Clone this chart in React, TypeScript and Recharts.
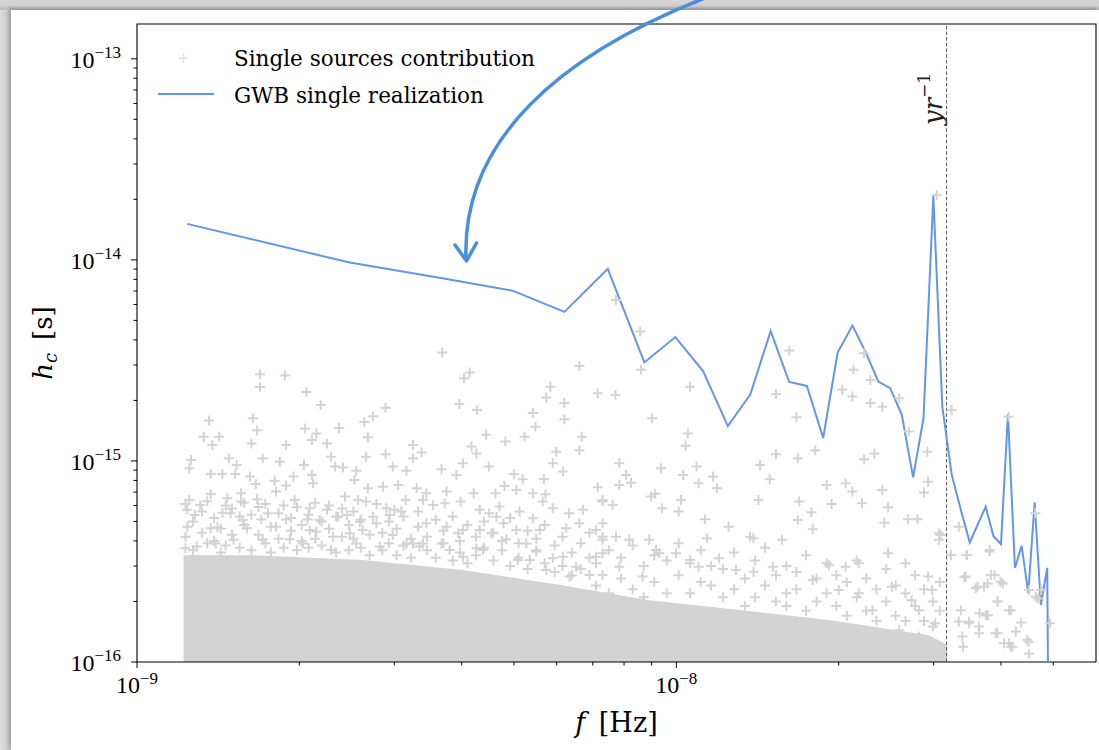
import React from 'react';
import {
  ComposedChart,
  Line,
  Area,
  Scatter,
  XAxis,
  YAxis,
  ReferenceLine,
  ReferenceArea,
  Legend,
} from 'recharts';

// ---------- axis set-up ----------
const xDomain = [1e-9, 6e-8];
const yDomain = [1e-16, 1.49e-13];
const xTicks = [1e-9, 2e-9, 3e-9, 4e-9, 5e-9, 6e-9, 7e-9, 8e-9, 9e-9, 1e-8, 2e-8, 3e-8, 4e-8, 5e-8];
const yTicks = [
  1e-16, 2e-16, 3e-16, 4e-16, 5e-16, 6e-16, 7e-16, 8e-16, 9e-16,
  1e-15, 2e-15, 3e-15, 4e-15, 5e-15, 6e-15, 7e-15, 8e-15, 9e-15,
  1e-14, 2e-14, 3e-14, 4e-14, 5e-14, 6e-14, 7e-14, 8e-14, 9e-14,
  1e-13,
];
const yearFreq = 3.17e-8; // 1/yr in Hz

// ---------- GWB single realization ----------
const gwbFreq = [
  1.239e-9, 2.48e-9, 3.751e-9, 4.969e-9, 6.203e-9, 7.462e-9, 8.724e-9, 9.957e-9, 1.121e-8, 1.246e-8,
  1.371e-8, 1.496e-8, 1.619e-8, 1.746e-8, 1.872e-8, 1.991e-8, 2.121e-8, 2.245e-8, 2.369e-8, 2.491e-8,
  2.618e-8, 2.748e-8, 2.873e-8, 2.996e-8, 3.113e-8, 3.241e-8, 3.368e-8, 3.5e-8, 3.626e-8, 3.746e-8,
  3.873e-8, 3.999e-8, 4.12e-8, 4.245e-8, 4.368e-8, 4.493e-8, 4.617e-8, 4.742e-8, 4.872e-8, 4.98e-8,
];
const gwbHc = [
  1.51e-14, 9.7e-15, 8.04e-15, 7.03e-15, 5.51e-15, 9.02e-15, 3.09e-15, 4.13e-15, 2.8e-15, 1.49e-15,
  2.14e-15, 4.42e-15, 2.47e-15, 2.36e-15, 1.3e-15, 3.46e-15, 4.71e-15, 3.47e-15, 2.48e-15, 2.3e-15,
  1.7e-15, 8.28e-16, 1.63e-15, 2.08e-14, 1.86e-15, 8.52e-16, 5.74e-16, 3.93e-16, 4.86e-16, 5.92e-16,
  4.22e-16, 3.86e-16, 1.71e-15, 2.94e-16, 3.78e-16, 2.2e-16, 6.22e-16, 1.92e-16, 2.94e-16, 1e-19,
];

// ---------- dense cloud of single sources (upper envelope of the solid region) ----------
const denseFreq = [1.22e-9, 1.62e-9, 2.62e-9, 4.02e-9, 6.07e-9, 8.91e-9, 1.2e-8, 1.92e-8, 2.94e-8, 3.18e-8];
const denseTop = [3.41e-16, 3.4e-16, 3.22e-16, 2.87e-16, 2.42e-16, 2.03e-16, 1.86e-16, 1.62e-16, 1.36e-16, 1.22e-16];

// ---------- individually visible single sources [f, hc] ----------
const singleSources: [number, number][] = [
  [3.68e-9, 3.46e-15], [1.69e-9, 2.7e-15], [1.88e-9, 2.66e-15], [1.69e-9, 2.33e-15], [4.04e-9, 2.58e-15],
  [4.14e-9, 2.75e-15], [6.61e-9, 2.97e-15], [2.06e-9, 2.2e-15], [2.19e-9, 1.9e-15], [2.89e-9, 1.84e-15],
  [3.96e-9, 1.92e-15], [4.27e-9, 1.79e-15], [5.84e-9, 2.34e-15], [5.74e-9, 2.07e-15], [6.2e-9, 1.94e-15],
  [7.15e-9, 2.17e-15], [1.36e-9, 1.59e-15], [1.64e-9, 1.63e-15], [1.67e-9, 1.42e-15], [2.05e-9, 1.45e-15],
  [2.37e-9, 1.46e-15], [2.64e-9, 1.56e-15], [2.74e-9, 1.67e-15], [5.42e-9, 1.73e-15], [5.48e-9, 1.48e-15],
  [6.2e-9, 1.61e-15], [4.44e-9, 1.35e-15], [5.23e-9, 1.32e-15], [6.68e-9, 1.32e-15], [1.33e-9, 1.32e-15],
  [1.38e-9, 1.2e-15], [1.42e-9, 1.32e-15], [1.63e-9, 1.22e-15], [1.89e-9, 1.2e-15], [2.15e-9, 1.37e-15],
  [2.11e-9, 1.27e-15], [2.25e-9, 1.22e-15], [2.68e-9, 1.31e-15], [3.25e-9, 1.2e-15], [3.37e-9, 1.1e-15],
  [4.17e-9, 1.18e-15], [4.26e-9, 1.09e-15], [4.82e-9, 1.25e-15], [5.99e-9, 1.11e-15], [6.61e-9, 1.13e-15],
  [1.26e-9, 1.01e-15], [1.25e-9, 9.19e-16], [1.48e-9, 1.03e-15], [1.53e-9, 9.55e-16], [1.71e-9, 1.03e-15],
  [1.84e-9, 9.92e-16], [2.29e-9, 1.05e-15], [2.33e-9, 9.37e-16], [2.41e-9, 9.27e-16], [2.66e-9, 1.05e-15],
  [2.89e-9, 1.08e-15], [2.98e-9, 9.37e-16], [3.16e-9, 8.95e-16], [3.25e-9, 1.03e-15], [3.67e-9, 9.09e-16],
  [4.02e-9, 9.74e-16], [3.91e-9, 8.52e-16], [4.49e-9, 9.37e-16], [5.0e-9, 8.62e-16], [5.19e-9, 8.11e-16],
  [5.68e-9, 8.13e-16], [5.9e-9, 9.74e-16], [6.16e-9, 8.85e-16], [1.37e-9, 8.62e-16], [1.44e-9, 8.62e-16],
  [1.52e-9, 8.62e-16], [1.62e-9, 8.36e-16], [1.66e-9, 7.68e-16], [1.8e-9, 7.98e-16], [1.89e-9, 7.54e-16],
  [1.95e-9, 8.36e-16], [2.04e-9, 9.55e-16], [2.11e-9, 8.52e-16], [2.12e-9, 7.74e-16], [2.55e-9, 8.95e-16],
  [2.53e-9, 8.04e-16], [2.68e-9, 7.31e-16], [2.86e-9, 7.45e-16], [3.05e-9, 7.6e-16], [3.3e-9, 7.31e-16],
  [3.44e-9, 6.91e-16], [3.75e-9, 7.04e-16], [4.21e-9, 6.91e-16], [4.62e-9, 6.91e-16], [4.8e-9, 7.51e-16],
  [5.05e-9, 7.17e-16], [5.42e-9, 6.91e-16], [5.72e-9, 6.83e-16], [7.15e-9, 7.4e-16], [7.3e-9, 6.28e-16],
  [1.25e-9, 6.4e-16], [1.31e-9, 6.04e-16], [1.37e-9, 6.85e-16], [1.47e-9, 6.52e-16], [1.56e-9, 6.91e-16],
  [1.56e-9, 6.28e-16], [1.67e-9, 6.45e-16], [1.81e-9, 7.04e-16], [1.96e-9, 6.4e-16], [2.09e-9, 5.81e-16],
  [2.25e-9, 5.71e-16], [2.43e-9, 6.65e-16], [2.57e-9, 6.4e-16], [2.66e-9, 6.28e-16], [2.9e-9, 5.81e-16],
  [3.0e-9, 5.71e-16], [3.15e-9, 6.4e-16], [3.39e-9, 6.4e-16], [3.54e-9, 6.04e-16], [3.72e-9, 6.16e-16],
  [3.98e-9, 6.28e-16], [4.32e-9, 5.71e-16], [4.5e-9, 5.49e-16], [4.7e-9, 5.93e-16], [5.12e-9, 5.6e-16],
  [5.65e-9, 6.28e-16], [5.9e-9, 5.81e-16], [6.32e-9, 5.49e-16], [6.71e-9, 5.71e-16], [7.1e-9, 4.54e-16],
  [7.3e-9, 4.05e-16], [1.24e-9, 5.71e-16], [1.28e-9, 5.39e-16], [1.44e-9, 5.53e-16], [1.49e-9, 5.49e-16],
  [1.57e-9, 5.09e-16], [1.7e-9, 5.12e-16], [1.75e-9, 5.49e-16], [1.89e-9, 5.12e-16], [2.07e-9, 5.12e-16],
  [2.18e-9, 5.09e-16], [2.36e-9, 5.28e-16], [2.45e-9, 5.39e-16], [2.59e-9, 4.99e-16], [2.74e-9, 5.28e-16],
  [2.94e-9, 5.39e-16], [3.09e-9, 5.6e-16], [3.44e-9, 4.9e-16], [3.75e-9, 4.71e-16], [4.02e-9, 4.54e-16],
  [4.32e-9, 4.54e-16], [4.64e-9, 5.28e-16], [4.78e-9, 4.9e-16], [5.05e-9, 4.54e-16], [5.42e-9, 5.19e-16],
  [5.58e-9, 4.54e-16], [6.25e-9, 4.62e-16], [6.61e-9, 4.9e-16], [1.24e-9, 4.71e-16], [1.37e-9, 4.62e-16],
  [1.41e-9, 4.68e-16], [1.6e-9, 4.62e-16], [1.81e-9, 4.71e-16], [2.09e-9, 4.54e-16], [2.15e-9, 4.45e-16],
  [2.31e-9, 4.2e-16], [2.48e-9, 4.37e-16], [2.62e-9, 4.54e-16], [2.98e-9, 4.28e-16], [3.25e-9, 3.89e-16],
  [3.39e-9, 3.89e-16], [3.67e-9, 3.89e-16], [3.94e-9, 4.37e-16], [4.26e-9, 3.68e-16], [4.54e-9, 4.37e-16],
  [4.84e-9, 4.08e-16], [5.27e-9, 3.89e-16], [5.5e-9, 3.54e-16], [5.9e-9, 3.28e-16], [6.16e-9, 3.34e-16],
  [6.52e-9, 2.98e-16], [7.1e-9, 3.34e-16], [7.3e-9, 2.71e-16], [1.23e-9, 3.68e-16], [1.29e-9, 3.75e-16],
  [1.4e-9, 3.89e-16], [1.51e-9, 4.05e-16], [1.71e-9, 4.05e-16], [1.92e-9, 4.08e-16], [2.03e-9, 3.89e-16],
  [2.29e-9, 3.61e-16], [2.55e-9, 3.89e-16], [2.82e-9, 3.75e-16], [3.16e-9, 3.89e-16], [3.34e-9, 3.75e-16],
  [3.8e-9, 3.61e-16], [4.02e-9, 3.34e-16], [4.38e-9, 3.61e-16], [5.08e-9, 3.22e-16], [5.35e-9, 3.22e-16],
  [5.74e-9, 2.87e-16], [6.34e-9, 2.66e-16], [6.9e-9, 2.71e-16],
  [7.73e-9, 6.32e-15], [8.57e-9, 4.4e-15], [8.6e-9, 2.84e-15], [7.71e-9, 2.13e-15], [9.02e-9, 1.63e-15],
  [1.06e-8, 2.34e-15], [1.05e-8, 1.37e-15], [1.04e-8, 1.19e-15], [1.53e-8, 2.15e-15], [1.62e-8, 3.54e-15],
  [1.67e-8, 1.65e-15], [1.81e-8, 1.13e-15], [1.68e-8, 1.03e-15], [1.53e-8, 1.08e-15], [1.43e-8, 9.55e-16],
  [1.49e-8, 8.11e-16], [2.13e-8, 2.84e-15], [2.12e-8, 2.09e-15], [2.03e-8, 2.26e-15], [2.29e-8, 1.94e-15],
  [2.41e-8, 1.86e-15], [2.59e-8, 2.05e-15], [2.7e-8, 1.4e-15], [2.92e-8, 1.11e-15], [3.24e-8, 1.79e-15],
  [2.33e-8, 1.09e-15], [2.23e-8, 1.02e-15], [2.23e-8, 3.43e-15], [2.29e-8, 2.53e-15], [3.04e-8, 2.1e-14],
  [4.13e-8, 1.66e-15], [7.84e-9, 9.74e-16], [8.07e-9, 8.52e-16], [7.84e-9, 7.6e-16], [8.24e-9, 7.8e-16],
  [9.37e-9, 9.19e-16], [1.03e-8, 8.52e-16], [1.09e-8, 9.37e-16], [1.1e-8, 7.74e-16], [1.17e-8, 8.36e-16],
  [1.19e-8, 7.31e-16], [1.02e-8, 6.4e-16], [1.01e-8, 5.6e-16], [8.98e-9, 6.65e-16], [9.14e-9, 6.86e-16],
  [9.41e-9, 5.81e-16], [1.13e-8, 5.13e-16], [1.25e-8, 4.71e-16], [1.42e-8, 6.4e-16], [1.57e-8, 4.05e-16],
  [1.69e-8, 6.28e-16], [1.78e-8, 5.55e-16], [1.68e-8, 5.09e-16], [1.79e-8, 4.57e-16], [1.9e-8, 7.6e-16],
  [1.94e-8, 6.11e-16], [2.06e-8, 7.74e-16], [2.12e-8, 7.04e-16], [2.21e-8, 6.16e-16], [2.41e-8, 7.17e-16],
  [2.47e-8, 5.88e-16], [2.43e-8, 4.93e-16], [2.69e-8, 5.13e-16], [2.8e-8, 5.13e-16], [2.93e-8, 7.89e-16],
  [2.88e-8, 6.96e-16], [3.07e-8, 4.37e-16], [3.07e-8, 4.05e-16], [3.34e-8, 4.71e-16], [3.45e-8, 3.41e-16],
  [3.23e-8, 3.41e-16], [3.81e-8, 3.61e-16], [4.63e-8, 5.49e-16], [3.44e-8, 2.66e-16], [3.62e-8, 2.37e-16],
  [3.78e-8, 2.46e-16], [4.03e-8, 2.46e-16], [3.89e-8, 2.71e-16], [3.65e-8, 1.75e-16], [3.78e-8, 1.71e-16],
  [3.94e-8, 2.0e-16], [4.17e-8, 1.81e-16], [4.36e-8, 1.57e-16], [4.5e-8, 1.26e-16], [4.26e-8, 1.42e-16],
  [3.34e-8, 1.59e-16], [3.49e-8, 1.56e-16], [3.64e-8, 1.39e-16], [3.94e-8, 1.39e-16], [4.05e-8, 1.24e-16],
  [4.93e-8, 1.56e-16], [4.68e-8, 2.07e-16], [4.75e-8, 2.28e-16], [4.51e-8, 1.1e-16], [4.17e-8, 1.19e-16],
  [3.4e-8, 1.19e-16], [2.47e-8, 3.47e-16], [2.66e-8, 3.1e-16], [2.51e-8, 2.37e-16], [2.73e-8, 2.03e-16],
  [2.93e-8, 2.66e-16], [2.98e-8, 2.28e-16], [2.82e-8, 1.81e-16], [3.02e-8, 1.56e-16], [2.59e-8, 1.44e-16],
  [2.82e-8, 1.34e-16], [2.31e-8, 1.29e-16], [2.18e-8, 3.1e-16], [2.06e-8, 2.98e-16], [1.92e-8, 3.03e-16],
  [1.79e-8, 2.56e-16], [2.0e-8, 2.28e-16], [2.18e-8, 2.2e-16], [2.31e-8, 1.81e-16], [1.6e-8, 2.2e-16],
  [1.51e-8, 2.98e-16], [1.39e-8, 2.81e-16], [1.29e-8, 2.87e-16], [1.2e-8, 3.28e-16], [1.1e-8, 2.98e-16],
  [1.06e-8, 3.22e-16], [9.99e-9, 3.47e-16], [9.3e-9, 3.47e-16], [8.66e-9, 2.66e-16], [7.84e-9, 2.98e-16],
  [7.3e-9, 3.47e-16], [7.73e-9, 4.2e-16], [8.18e-9, 4.05e-16], [8.91e-9, 4.05e-16], [9.17e-9, 3.61e-16],
  [1.14e-8, 4.12e-16], [1.37e-8, 4.2e-16], [1.39e-8, 4.12e-16], [7.3e-9, 6.4e-16], [7.62e-9, 6.04e-16],
  [7.3e-9, 4.9e-16], [7.3e-9, 4.2e-16],
  [3.09e-8, 4.28e-16], [3.46e-8, 3.41e-16], [3.81e-8, 3.54e-16], [3.42e-8, 2.64e-16], [3.59e-8, 2.33e-16],
  [3.72e-8, 2.37e-16], [3.83e-8, 2.71e-16], [3.99e-8, 2.51e-16], [3.94e-8, 2.0e-16], [4.14e-8, 1.81e-16],
  [3.75e-8, 1.71e-16], [3.37e-8, 1.81e-16], [3.49e-8, 1.59e-16], [3.64e-8, 1.5e-16], [3.91e-8, 1.39e-16],
  [4.2e-8, 1.19e-16], [4.47e-8, 1.29e-16], [4.14e-8, 1.24e-16], [3.39e-8, 1.34e-16], [4.64e-8, 2.11e-16],
  [4.51e-8, 2.28e-16],
  // crowded band just above the solid cloud (low frequencies)
  [1.23e-9, 6.1e-16], [1.23e-9, 4.2e-16], [1.27e-9, 5.0e-16], [1.27e-9, 3.6e-16], [1.32e-9, 5.6e-16],
  [1.32e-9, 4.4e-16], [1.35e-9, 3.9e-16], [1.35e-9, 6.3e-16], [1.39e-9, 5.2e-16], [1.39e-9, 4.0e-16],
  [1.43e-9, 4.6e-16], [1.43e-9, 3.5e-16], [1.46e-9, 6.0e-16], [1.46e-9, 3.8e-16], [1.5e-9, 4.3e-16],
  [1.5e-9, 5.8e-16], [1.55e-9, 3.7e-16], [1.55e-9, 5.3e-16], [1.58e-9, 4.8e-16], [1.58e-9, 6.2e-16],
  [1.63e-9, 3.6e-16], [1.63e-9, 5.4e-16], [1.68e-9, 4.3e-16], [1.68e-9, 5.9e-16], [1.73e-9, 3.9e-16],
  [1.73e-9, 6.1e-16], [1.77e-9, 4.7e-16], [1.77e-9, 3.5e-16], [1.83e-9, 5.5e-16], [1.83e-9, 4.1e-16],
  [1.87e-9, 3.7e-16], [1.87e-9, 6.0e-16], [1.93e-9, 4.5e-16], [1.93e-9, 5.2e-16], [1.98e-9, 3.6e-16],
  [1.98e-9, 5.9e-16], [2.02e-9, 4.8e-16], [2.02e-9, 4.0e-16], [2.08e-9, 5.4e-16], [2.08e-9, 3.7e-16],
  [2.14e-9, 6.2e-16], [2.14e-9, 4.1e-16], [2.2e-9, 3.8e-16], [2.2e-9, 5.0e-16], [2.27e-9, 4.6e-16],
  [2.27e-9, 6.0e-16], [2.34e-9, 3.5e-16], [2.34e-9, 5.3e-16], [2.4e-9, 4.2e-16], [2.4e-9, 5.8e-16],
  [2.47e-9, 3.6e-16], [2.47e-9, 4.8e-16], [2.52e-9, 5.6e-16], [2.52e-9, 4.1e-16], [2.6e-9, 3.7e-16],
  [2.6e-9, 5.1e-16], [2.7e-9, 4.3e-16], [2.7e-9, 3.4e-16], [2.78e-9, 4.9e-16], [2.78e-9, 6.1e-16],
  [2.85e-9, 3.6e-16], [2.85e-9, 4.4e-16], [2.93e-9, 5.0e-16], [2.93e-9, 3.9e-16], [3.03e-9, 4.6e-16],
  [3.03e-9, 3.4e-16], [3.12e-9, 5.3e-16], [3.12e-9, 3.8e-16], [3.22e-9, 4.1e-16], [3.22e-9, 3.3e-16],
  [3.32e-9, 4.7e-16], [3.32e-9, 5.6e-16], [3.45e-9, 3.6e-16], [3.45e-9, 4.2e-16], [3.58e-9, 5.1e-16],
  [3.58e-9, 3.3e-16], [3.7e-9, 3.9e-16], [3.7e-9, 4.5e-16], [3.85e-9, 3.2e-16], [3.85e-9, 5.3e-16],
  [3.97e-9, 4.0e-16], [3.97e-9, 3.5e-16], [4.1e-9, 4.8e-16], [4.1e-9, 3.1e-16], [4.25e-9, 4.2e-16],
  [4.25e-9, 3.4e-16], [4.4e-9, 3.7e-16], [4.4e-9, 5.0e-16], [4.58e-9, 4.4e-16], [4.58e-9, 3.2e-16],
  [4.75e-9, 3.6e-16], [4.75e-9, 4.0e-16], [4.92e-9, 5.2e-16], [4.92e-9, 3.0e-16], [5.1e-9, 3.9e-16],
  [5.1e-9, 3.3e-16], [5.3e-9, 4.5e-16], [5.3e-9, 2.9e-16], [5.5e-9, 3.6e-16], [5.5e-9, 4.1e-16],
  [5.7e-9, 3.1e-16], [5.7e-9, 4.8e-16], [5.95e-9, 3.8e-16], [5.95e-9, 2.8e-16], [6.15e-9, 4.2e-16],
  [6.15e-9, 3.0e-16], [6.4e-9, 3.5e-16], [6.4e-9, 2.7e-16], [6.65e-9, 3.9e-16], [6.65e-9, 2.9e-16],
  [6.9e-9, 3.3e-16], [6.9e-9, 4.4e-16],
  // crowded band just above the solid cloud (high frequencies)
  [7.1e-9, 3.1e-16], [7.1e-9, 2.4e-16], [7.5e-9, 3.6e-16], [7.5e-9, 2.2e-16], [7.9e-9, 2.6e-16],
  [7.9e-9, 3.3e-16], [8.3e-9, 3.8e-16], [8.3e-9, 2.3e-16], [8.7e-9, 3.0e-16], [8.7e-9, 2.1e-16],
  [9.1e-9, 2.5e-16], [9.1e-9, 3.4e-16], [9.6e-9, 3.2e-16], [9.6e-9, 2.2e-16], [1.01e-8, 2.7e-16],
  [1.01e-8, 3.9e-16], [1.06e-8, 2.2e-16], [1.06e-8, 3.1e-16], [1.11e-8, 3.6e-16], [1.11e-8, 2.5e-16],
  [1.16e-8, 2.4e-16], [1.16e-8, 3.0e-16], [1.22e-8, 2.9e-16], [1.22e-8, 2.1e-16], [1.28e-8, 3.5e-16],
  [1.28e-8, 2.3e-16], [1.34e-8, 2.6e-16], [1.34e-8, 1.9e-16], [1.4e-8, 3.2e-16], [1.4e-8, 2.1e-16],
  [1.46e-8, 2.4e-16], [1.46e-8, 3.7e-16], [1.53e-8, 2.0e-16], [1.53e-8, 2.7e-16], [1.6e-8, 3.0e-16],
  [1.6e-8, 1.9e-16], [1.67e-8, 2.3e-16], [1.67e-8, 2.8e-16], [1.74e-8, 1.8e-16], [1.74e-8, 3.4e-16],
  [1.82e-8, 2.6e-16], [1.82e-8, 2.0e-16], [1.9e-8, 2.2e-16], [1.9e-8, 3.1e-16], [1.98e-8, 1.9e-16],
  [1.98e-8, 2.7e-16], [2.07e-8, 2.5e-16], [2.07e-8, 1.7e-16], [2.16e-8, 2.1e-16], [2.16e-8, 3.2e-16],
  [2.25e-8, 1.8e-16], [2.25e-8, 2.6e-16], [2.35e-8, 2.3e-16], [2.35e-8, 1.6e-16], [2.45e-8, 2.0e-16],
  [2.45e-8, 2.9e-16], [2.55e-8, 1.7e-16], [2.55e-8, 2.4e-16], [2.66e-8, 2.2e-16], [2.66e-8, 1.6e-16],
  [2.77e-8, 1.9e-16], [2.77e-8, 2.7e-16], [2.88e-8, 1.6e-16], [2.88e-8, 2.3e-16], [2.99e-8, 2.0e-16],
  [2.99e-8, 1.5e-16], [3.08e-8, 1.8e-16], [3.08e-8, 2.5e-16],
];

const gwbData = gwbFreq.map((f, i) => ({ f, h: gwbHc[i] }));
const denseData = denseFreq.map((f, i) => ({ f, h: denseTop[i] }));
const sourceData = singleSources.map(([f, h]) => ({ f, h }));

// ---------- styling ----------
const SERIF = '"DejaVu Serif", serif';
const NUM = '"Liberation Serif", "DejaVu Serif", serif';
const GRAY = '#d3d3d3';
const BLUE = '#6495ED';

const isMajor = (v: number) => Math.abs(Math.log10(v) - Math.round(Math.log10(v))) < 1e-6;
const expOf = (v: number) => Math.round(Math.log10(v));

const XTick = (props: any) => {
  const { x, y, payload } = props;
  const v = payload.value;
  const major = isMajor(v);
  return (
    <g>
      <line x1={x} y1={y} x2={x} y2={y + (major ? 6 : 3.5)} stroke="#000" strokeWidth={1} />
      {major && (
        <text x={x} y={y + 31} textAnchor="middle" fontFamily={NUM} fontSize={24} fill="#000">
          10
          <tspan dy={-9} fontSize={17}>{'\u2212' + String(-expOf(v))}</tspan>
        </text>
      )}
    </g>
  );
};

const YTick = (props: any) => {
  const { x, y, payload } = props;
  const v = payload.value;
  const major = isMajor(v);
  return (
    <g>
      <line x1={x} y1={y} x2={x - (major ? 6 : 3.5)} y2={y} stroke="#000" strokeWidth={1} />
      {major && (
        <text x={x - 16} y={y + 9} textAnchor="end" fontFamily={NUM} fontSize={24} fill="#000">
          10
          <tspan dy={-10} fontSize={17}>{'\u2212' + String(-expOf(v))}</tspan>
        </text>
      )}
    </g>
  );
};

const XAxisLabel = (props: any) => {
  const vb = props.viewBox || {};
  const cx = vb.x + vb.width / 2;
  return (
    <text x={cx} y={vb.y + 70} textAnchor="middle" fontFamily={SERIF} fontSize={27} fill="#000">
      <tspan fontStyle="italic">f</tspan>
      <tspan>{'\u2002[Hz]'}</tspan>
    </text>
  );
};

const YAxisLabel = (props: any) => {
  const vb = props.viewBox || {};
  const cy = vb.y + vb.height / 2;
  const lx = 52;
  return (
    <text
      x={lx}
      y={cy}
      transform={`rotate(-90, ${lx}, ${cy})`}
      textAnchor="middle"
      fontFamily={SERIF}
      fontSize={26}
      fill="#000"
    >
      <tspan fontStyle="italic">h</tspan>
      <tspan fontStyle="italic" fontSize={18} dy={5}>c</tspan>
      <tspan dy={-5}>{'\u2002[s]'}</tspan>
    </text>
  );
};

const YrLabel = (props: any) => {
  const vb = props.viewBox || {};
  const lx = vb.x - 5;
  const ly = vb.y + 101;
  return (
    <text
      x={lx}
      y={ly}
      transform={`rotate(-90, ${lx}, ${ly})`}
      textAnchor="start"
      fontFamily={SERIF}
      fontSize={26}
      fill="#222"
    >
      <tspan fontStyle="italic">yr</tspan>
      <tspan dy={-12} fontSize={17}>{'\u22121'}</tspan>
    </text>
  );
};

const PlusShape = (props: any) => {
  const { cx, cy } = props;
  if (cx == null || cy == null) return <g />;
  return (
    <path
      d={`M${cx - 5},${cy}H${cx + 5}M${cx},${cy - 5}V${cy + 5}`}
      stroke={GRAY}
      strokeWidth={2}
      fill="none"
    />
  );
};

const LegendContent = () => (
  <svg width={420} height={80} style={{ overflow: 'visible' }}>
    <path d="M29,20H38M33.5,15.5V24.5" stroke="#e4e4e4" strokeWidth={1.8} fill="none" />
    <text x={84} y={28} fontFamily={SERIF} fontSize={21.5} fill="#000">
      Single sources contribution
    </text>
    <line x1={8} y1={56} x2={64} y2={56} stroke={BLUE} strokeWidth={2} />
    <text x={84} y={65} fontFamily={SERIF} fontSize={21.5} fill="#000">
      GWB single realization
    </text>
  </svg>
);

export default function App() {
  return (
    <div
      style={{
        position: 'absolute',
        left: 0,
        top: 0,
        width: 1099,
        height: 750,
        overflow: 'hidden',
        background: 'linear-gradient(90deg, #dedede 0px, #c4c4c4 10px, #d2d2d2 11px)',
      }}
    >
      <div
        style={{
          position: 'absolute',
          left: 0,
          top: 0,
          right: 0,
          height: 10,
          background: 'linear-gradient(180deg, #d6d6d6 0px, #cfcfcf 6px, #bdbdbd 9px)',
        }}
      />
      <div
        style={{
          position: 'absolute',
          left: 11,
          top: 10,
          right: 0,
          bottom: 0,
          background: '#ffffff',
          boxShadow: '-2px -2px 3px rgba(0,0,0,0.22)',
        }}
      />
      <div style={{ position: 'absolute', left: 0, top: 0 }}>
        <ComposedChart width={1099} height={750} margin={{ top: 24, right: 3, bottom: 0, left: 0 }}>
          <XAxis
            dataKey="f"
            type="number"
            scale="log"
            domain={xDomain}
            allowDataOverflow
            ticks={xTicks}
            interval={0}
            height={88}
            axisLine={false}
            tickLine={false}
            tickSize={0}
            tickMargin={0}
            tick={<XTick />}
            label={<XAxisLabel />}
          />
          <YAxis
            dataKey="h"
            type="number"
            scale="log"
            domain={yDomain}
            allowDataOverflow
            ticks={yTicks}
            interval={0}
            width={137}
            axisLine={false}
            tickLine={false}
            tickSize={0}
            tickMargin={0}
            tick={<YTick />}
            label={<YAxisLabel />}
          />
          <Area
            data={denseData}
            dataKey="h"
            type="linear"
            baseValue={1e-16}
            fill={GRAY}
            fillOpacity={1}
            stroke="none"
            isAnimationActive={false}
            legendType="none"
          />
          <Scatter
            data={sourceData}
            dataKey="h"
            shape={PlusShape}
            isAnimationActive={false}
            name="Single sources contribution"
          />
          <ReferenceLine
            x={yearFreq}
            stroke="#555"
            strokeWidth={1}
            strokeDasharray="3.5 2.2"
            label={<YrLabel />}
          />
          <Line
            data={gwbData}
            dataKey="h"
            type="linear"
            stroke={BLUE}
            strokeWidth={2}
            dot={false}
            isAnimationActive={false}
            name="GWB single realization"
          />
          <ReferenceArea
            x1={xDomain[0]}
            x2={xDomain[1]}
            y1={yDomain[0]}
            y2={yDomain[1]}
            fill="none"
            fillOpacity={0}
            stroke="#000"
            strokeWidth={1.1}
            ifOverflow="visible"
          />
          <Legend
            layout="horizontal"
            align="center"
            verticalAlign="middle"
            content={<LegendContent />}
            wrapperStyle={{ left: 150, top: 38, width: 420, height: 80 }}
          />
        </ComposedChart>
      </div>
      <svg
        width={1099}
        height={750}
        style={{ position: 'absolute', left: 0, top: 0, pointerEvents: 'none' }}
      >
        <path d="M705,-2 C560,55 462,140 466,258" fill="none" stroke="#4A8FDA" strokeWidth={3.5} strokeLinecap="round" />
        <path
          d="M455,245 L466.5,261 L476.5,243"
          fill="none"
          stroke="#4A8FDA"
          strokeWidth={3.5}
          strokeLinecap="round"
          strokeLinejoin="round"
        />
      </svg>
    </div>
  );
}
